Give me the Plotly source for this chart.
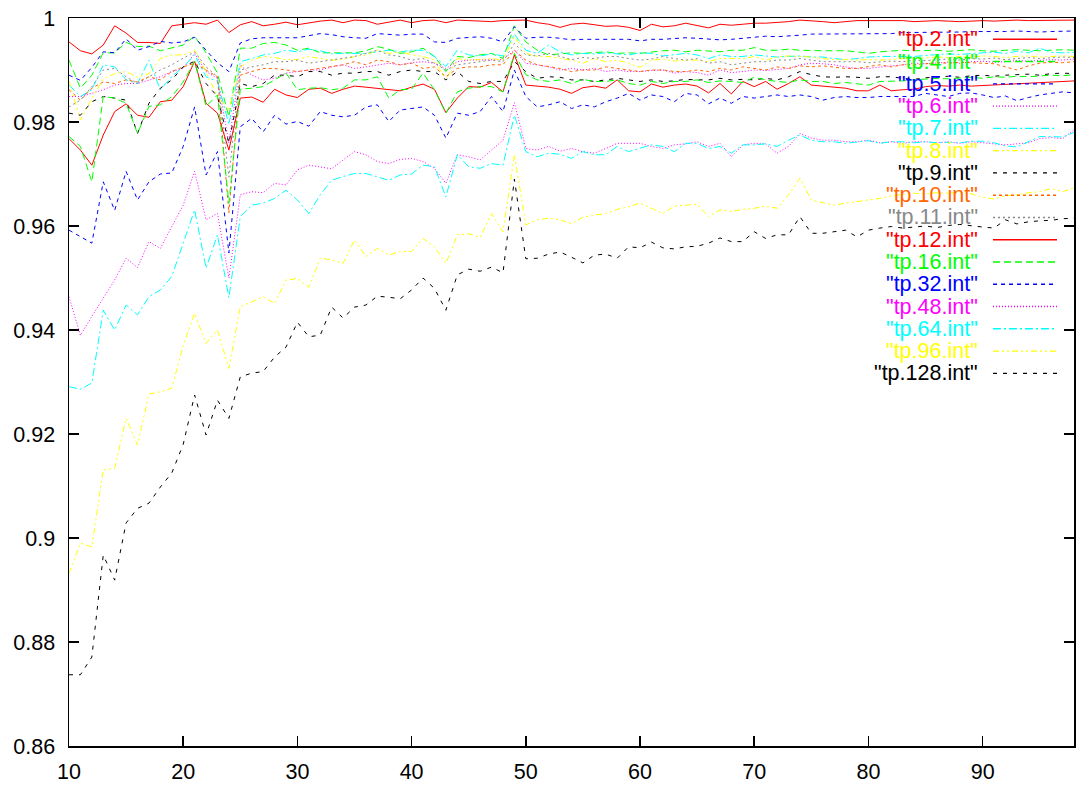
import plotly.graph_objects as go

x = list(range(10, 99))

tp2 = [.9954,.9937,.9931,.9948,.9985,.9971,.9953,.9953,.9951,.9985,
       .9988,.9991,.9988,.9996,.9972,.9987,.9993,.9985,.9988,.9992,
       .9987,.9991,.9994,.9996,.9991,.9996,.9995,.9988,.9992,.9996,
       .9991,.9995,.9996,.9991,.9996,.9995,.9994,.9993,.9995,.9996,
       .9996,.9991,.9988,.9982,.9988,.9990,.9987,.9984,.9985,.9982,
       .9976,.9988,.9983,.9985,.9990,.9985,.9981,.9988,.9986,.9988,
       .9990,.9990,.9991,.9993,.9996,.9995,.9993,.9991,.9993,.9995,
       .9995,.9995,.9995,.9995,.9993,.9994,.9995,.9994,.9993,.9994,
       .9995,.9994,.9995,.9996,.9995,.9995,.9996,.9996,.9996]

tp4 = [.9919,.9865,.9890,.9933,.9933,.9953,.9945,.9946,.9937,.9942,
       .9948,.9965,.9933,.9894,.9810,.9942,.9942,.9951,.9953,.9948,
       .9938,.9942,.9933,.9933,.9933,
       .9933,.9937,.9945,.9940,.9932,.9935,.9942,.9926,.9897,.9926,.9924,.9929,.9932,
       .9922,.9985,.9954,.9938,.9929,.9931,.9933,.9932,.9933,.9935,.9932,.9933,.9932,
       .9935,.9937,.9938,.9935,.9938,.9937,.9935,.9938,.9938,.9943,.9938,.9938,
       .9940,.9938,.9937,.9937,.9937,.9937,.9935,.9932,.9935,.9937,.9938,.9937,
       .9937,.9938,.9936,.9938,.9939,.9937,.9936,.9938,.9939,.9938,.9937,.9938,.9939,.9938]

tp5 = [.9890,.9880,.9905,.9935,.9933,.9960,.9938,.9945,.9955,.9952,
       .9954,.9963,.9938,.9914,.9897,.9952,.9960,.9962,.9962,.9962,
       .9962,.9966,.9970,.9968,.9964,.9962,.9961,.9970,.9969,.9967,
       .9969,.9969,.9954,.9953,.9961,.9963,.9964,.9961,.9954,.9983,
       .9961,.9963,.9963,.9961,.9958,.9959,.9959,.9959,.9959,.9959,
       .9956,.9959,.9959,.9961,.9962,.9961,.9959,.9958,.9959,.9961,
       .9964,.9965,.9964,.9965,.9967,.9969,.9969,.9969,.9969,.9969,
       .9969,.9970,.9970,.9972,.9972,.9972,.9972,.9973,.9973,.9974,
       .9974,.9973,.9974,.9975,.9974,.9973,.9974,.9975,.9975]

tp6 = [.9849,.9849,.9855,.9862,.9871,.9874,.9874,.9881,.9887,.9897,
       .9903,.9932,.9897,.9884,.9760,.9910,.9890,.9881,.9884,.9894,
       .9897,.9900,.9900,.9906,.9910,
       .9903,.9906,.9910,.9913,.9910,.9914,.9916,.9913,.9903,.9916,.9919,.9919,.9920,
       .9920,.9938,.9913,.9910,.9906,.9900,.9903,.9900,.9903,.9897,.9900,.9897,.9897,
       .9899,.9900,.9894,.9897,.9895,.9890,.9900,.9895,.9897,.9900,.9899,.9901,
       .9903,.9910,.9913,.9912,.9910,.9906,.9903,.9903,.9906,.9908,.9910,.9913,
       .9912,.9914,.9915,.9913,.9916,.9917,.9915,.9916,.9918,.9917,.9919,.9920,.9919,.9921]

tp7 = [.9871,.9849,.9862,.9910,.9906,.9881,.9874,.9919,.9862,.9887,
       .9906,.9929,.9887,.9878,.9795,.9916,.9922,.9929,.9932,.9938,
       .9935,.9940,.9937,.9931,.9932,
       .9932,.9932,.9935,.9938,.9935,.9938,.9938,.9926,.9907,.9938,.9929,.9927,.9931,
       .9927,.9969,.9938,.9932,.9948,.9935,.9929,.9932,.9931,.9933,.9931,.9929,.9933,
       .9932,.9927,.9929,.9932,.9929,.9922,.9929,.9926,.9926,.9929,.9927,.9925,
       .9926,.9927,.9925,.9925,.9922,.9920,.9922,.9925,.9926,.9926,.9927,.9926,
       .9928,.9930,.9931,.9930,.9932,.9933,.9934,.9932,.9936,.9933,.9942,.9934,.9933,.9934]

tp8 = [.9879,.9804,.9845,.9883,.9893,.9897,.9886,.9893,.9922,.9929,
       .9929,.9938,.9897,.9849,.9823,.9906,.9919,.9926,.9924,.9920,
       .9920,.9926,.9922,.9919,.9920,
       .9926,.9929,.9938,.9932,.9935,.9929,.9926,.9919,.9881,.9922,.9919,.9920,.9922,
       .9919,.9964,.9932,.9926,.9926,.9922,.9919,.9913,.9922,.9916,.9919,.9913,.9905,
       .9919,.9921,.9917,.9919,.9919,.9916,.9922,.9922,.9922,.9926,.9919,.9925,
       .9927,.9926,.9925,.9922,.9920,.9920,.9919,.9920,.9919,.9920,.9922,.9922,
       .9923,.9925,.9924,.9926,.9925,.9927,.9926,.9924,.9926,.9927,.9925,.9926,.9927,.9926]

tp9 = [.9817,.9813,.9839,.9849,.9846,.9842,.9778,.9836,.9865,.9881,
       .9906,.9917,.9874,.9849,.9759,.9874,.9868,.9874,.9890,.9890,
       .9887,.9897,.9897,.9890,.9894,
       .9894,.9897,.9897,.9890,.9897,.9900,.9897,.9897,.9881,.9897,.9878,.9874,.9878,
       .9878,.9916,.9897,.9884,.9887,.9886,.9881,.9881,.9878,.9881,.9884,.9881,.9878,
       .9881,.9878,.9879,.9882,.9881,.9881,.9884,.9881,.9882,.9881,.9884,.9881,
       .9887,.9897,.9891,.9887,.9886,.9887,.9886,.9884,.9887,.9887,.9884,.9882,
       .9885,.9887,.9888,.9886,.9889,.9890,.9888,.9890,.9891,.9892,.9890,.9893,.9894,.9893]

tp10 = [.9862,.9842,.9865,.9877,.9874,.9881,.9877,.9887,.9881,.9897,
        .9906,.9913,.9900,.9887,.9625,.9890,.9897,.9903,.9903,.9900,
        .9897,.9900,.9903,.9906,.9910,
        .9916,.9910,.9919,.9916,.9910,.9913,.9903,.9906,.9887,.9903,.9906,.9906,.9910,
        .9910,.9938,.9919,.9910,.9906,.9903,.9897,.9900,.9900,.9906,.9903,.9900,.9897,
        .9900,.9900,.9897,.9897,.9900,.9897,.9903,.9900,.9906,.9903,.9900,.9906,
        .9903,.9908,.9906,.9908,.9906,.9903,.9903,.9906,.9910,.9906,.9910,.9910,
        .9912,.9914,.9913,.9915,.9914,.9913,.9912,.9906,.9900,.9908,.9913,.9915,.9914,.9916]

tp11 = [.9829,.9842,.9868,.9900,.9903,.9887,.9874,.9887,.9900,.9910,
        .9922,.9935,.9906,.9887,.9694,.9900,.9906,.9910,.9916,.9916,
        .9919,.9913,.9916,.9919,.9922,
        .9926,.9932,.9938,.9929,.9926,.9919,.9922,.9913,.9900,.9910,.9913,.9916,.9919,
        .9916,.9951,.9929,.9927,.9932,.9926,.9920,.9924,.9922,.9926,.9926,.9922,.9919,
        .9921,.9926,.9922,.9919,.9922,.9913,.9916,.9910,.9913,.9916,.9916,.9919,
        .9919,.9922,.9919,.9916,.9916,.9916,.9916,.9914,.9916,.9917,.9916,.9919,
        .9918,.9920,.9921,.9919,.9922,.9921,.9923,.9920,.9922,.9924,.9922,.9923,.9925,.9924]

tp12 = [.9768,.9746,.9717,.9775,.9820,.9835,.9813,.9809,.9839,.9842,
        .9868,.9917,.9836,.9817,.9746,.9846,.9848,.9838,.9863,.9852,
        .9847,.9863,.9865,.9855,.9863,.9869,.9867,.9865,.9863,.9860,
        .9867,.9873,.9863,.9818,.9846,.9868,.9867,.9876,.9858,.9929,
        .9871,.9869,.9867,.9863,.9855,.9866,.9869,.9865,.9881,.9860,
        .9858,.9873,.9867,.9871,.9873,.9869,.9856,.9874,.9854,.9878,
        .9868,.9878,.9863,.9874,.9887,.9871,.9869,.9867,.9865,.9860,
        .9860,.9871,.9860,.9862,.9863,.9868,.9870,.9869,.9871,.9869,
        .9870,.9871,.9872,.9873,.9874,.9875,.9876,.9878,.9879]

tp16 = [.9772,.9753,.9685,.9849,.9846,.9836,.9778,.9830,.9833,.9849,
        .9877,.9917,.9830,.9852,.9644,.9863,.9865,.9868,.9881,.9894,
        .9862,.9865,.9866,.9862,.9865,
        .9881,.9881,.9887,.9846,.9862,.9863,.9894,.9862,.9817,.9858,.9865,.9868,.9868,
        .9858,.9932,.9891,.9881,.9878,.9881,.9874,.9882,.9878,.9878,.9881,.9874,.9871,
        .9878,.9874,.9878,.9878,.9881,.9876,.9879,.9878,.9876,.9886,.9881,.9878,
        .9876,.9881,.9878,.9878,.9874,.9876,.9873,.9871,.9878,.9878,.9879,.9881,
        .9882,.9884,.9883,.9885,.9886,.9884,.9887,.9886,.9888,.9887,.9889,.9890,.9889,.9891]

tp32 = [.9592,.9579,.9567,.9685,.9630,.9705,.9650,.9685,.9700,.9702,
        .9753,.9829,.9698,.9743,.9548,.9791,.9807,.9781,.9813,.9796,
        .9801,.9792,.9820,.9813,.9810,.9813,.9829,.9833,.9801,.9823,
        .9826,.9829,.9813,.9769,.9817,.9813,.9820,.9849,.9820,.9900,
        .9849,.9829,.9833,.9839,.9826,.9833,.9829,.9839,.9846,.9855,
        .9842,.9852,.9849,.9839,.9855,.9852,.9835,.9846,.9836,.9849,
        .9846,.9849,.9852,.9849,.9852,.9849,.9842,.9847,.9849,.9847,
        .9847,.9849,.9849,.9850,.9849,.9855,.9852,.9849,.9855,.9856,
        .9852,.9847,.9850,.9841,.9847,.9852,.9855,.9858,.9856]

tp48 = [.9464,.9390,.9426,.9461,.9496,.9538,.9520,.9570,.9557,.9599,
        .9640,.9705,.9612,.9624,.9500,.9660,.9666,.9664,.9682,.9679,
        .9708,.9717,.9714,.9710,.9727,.9743,.9737,.9724,.9720,.9728,
        .9730,.9724,.9711,.9682,.9737,.9733,.9727,.9746,.9765,.9837,
        .9749,.9746,.9753,.9744,.9749,.9743,.9740,.9749,.9759,.9759,
        .9759,
        .9753,.9749,.9756,.9758,.9762,.9753,.9759,.9733,.9756,.9759,.9758,.9740,
        .9753,.9778,.9769,.9765,.9765,.9762,.9762,.9765,.9760,.9762,.9759,.9762,
        .9762,.9760,.9762,.9759,.9762,.9760,.9757,.9756,.9758,.9760,.9768,.9770,.9768,.9785]

tp64 = [.9291,.9286,.9298,.9438,.9400,.9448,.9429,.9464,.9477,.9503,
        .9567,.9631,.9519,.9583,.9462,.9618,.9640,.9644,.9653,.9669,
        .9650,.9624,.9660,.9688,.9695,.9701,.9701,.9695,.9688,.9698,
        .9700,.9717,.9714,.9656,.9737,.9714,.9711,.9720,.9717,.9813,
        .9743,.9733,.9740,.9738,.9730,.9743,.9737,.9737,.9753,.9743,
        .9750,
        .9756,.9753,.9743,.9759,.9759,.9749,.9753,.9740,.9756,.9756,.9758,.9753,
        .9765,.9775,.9765,.9762,.9762,.9759,.9762,.9764,.9759,.9762,.9762,.9760,
        .9762,.9760,.9761,.9760,.9763,.9763,.9760,.9754,.9752,.9762,.9772,.9772,.9771,.9780]

tp96 = [.8932,.8990,.8983,.9131,.9134,.9230,.9179,.9277,.9281,.9288,
        .9370,.9432,.9374,.9400,.9326,.9445,.9454,.9464,.9451,.9496,
        .9499,.9482,.9538,.9535,.9528,.9573,.9541,.9557,.9544,.9551,
        .9551,.9576,.9560,.9528,.9583,.9585,.9578,.9624,.9589,.9737,
        .9602,.9612,.9615,.9612,.9604,.9617,.9621,.9624,.9632,.9637,
        .9644,.9634,.9624,.9638,.9640,.9642,.9618,.9631,.9628,.9632,
        .9634,.9638,.9634,.9660,.9692,.9650,.9645,.9640,.9644,.9647,
        .9650,.9653,.9658,.9660,.9663,
        .9662,.9664,.9663,.9665,.9662,.9655,.9652,.9658,.9660,.9664,.9666,.9672,.9666,.9673]

tp128 = [.8737,.8737,.8771,.8967,.8919,.9029,.9057,.9067,.9098,.9125,
         .9180,.9275,.9198,.9265,.9230,.9310,.9317,.9320,.9348,.9367,
         .9415,.9387,.9390,.9444,.9423,.9444,.9448,.9465,.9463,.9460,
         .9477,.9500,.9480,.9438,.9506,.9517,.9513,.9521,.9510,.9690,
         .9537,.9538,.9546,.9550,.9540,.9529,.9544,.9546,.9538,.9560,
         .9558,.9569,.9558,.9556,.9560,.9561,.9567,.9577,.9570,.9570,
         .9589,.9576,.9583,.9583,.9618,.9586,.9586,.9589,.9592,.9579,
         .9592,.9596,.9599,.9596,.9598,.9600,.9597,.9601,.9603,.9600,
         .9598,.9596,.9612,.9604,.9608,.9610,.9611,.9614,.9615]

names = ['"tp.2.int"', '"tp.4.int"', '"tp.5.int"', '"tp.6.int"', '"tp.7.int"',
         '"tp.8.int"', '"tp.9.int"', '"tp.10.int"', '"tp.11.int"', '"tp.12.int"',
         '"tp.16.int"', '"tp.32.int"', '"tp.48.int"', '"tp.64.int"', '"tp.96.int"',
         '"tp.128.int"']
series = [tp2, tp4, tp5, tp6, tp7, tp8, tp9, tp10, tp11, tp12, tp16, tp32, tp48, tp64, tp96, tp128]

# gnuplot line types 1..9 then repeat
lt_colors = ['#ff0000', '#00ff00', '#0000ff', '#ff00ff', '#00ffff', '#ffff00',
             '#000000', '#ff6600', '#888888']
lt_dash = ['solid', '7px,4px', '4px,4px', '1px,2px', '8px,3px,2px,3px',
           '6px,3px,2px,3px,2px,3px', '4px,6px', '3px,3px', '2px,3px']

xticks = [10, 20, 30, 40, 50, 60, 70, 80, 90]
yticks = [0.86, 0.88, 0.90, 0.92, 0.94, 0.96, 0.98, 1.0]
ytick_text = ['0.86', '0.88', '0.9', '0.92', '0.94', '0.96', '0.98', '1']

W, H = 1078, 785
ML, MR, MT, MB = 69, 4, 18, 39
PW, PH = W - ML - MR, H - MT - MB

fig = go.Figure()
for i, (nm, ys) in enumerate(zip(names, series)):
    lt = i % 9
    fig.add_trace(go.Scatter(x=x, y=ys, mode='lines', name=nm, showlegend=False,
                             hoverinfo='skip',
                             line=dict(color=lt_colors[lt], width=1, dash=lt_dash[lt])))

def px_x(p):
    return (p - ML) / PW

def px_y(q):
    return 1 - (q - MT) / PH

annotations = []
shapes = []
font_family = 'Liberation Sans, Arial, Helvetica, sans-serif'
for i, nm in enumerate(names):
    lt = i % 9
    row_px = 39.3 + 22.27 * i
    yc = px_y(row_px)
    annotations.append(dict(xref='paper', yref='paper', x=px_x(979), y=yc,
                            xanchor='right', yanchor='middle', text=nm, showarrow=False,
                            borderpad=0,
                            font=dict(family=font_family, size=21.5, color=lt_colors[lt])))
    shapes.append(dict(type='line', xref='paper', yref='paper', layer='above',
                       x0=px_x(993), x1=px_x(1057), y0=yc, y1=yc,
                       line=dict(color=lt_colors[lt], width=1.4, dash=lt_dash[lt])))

axis_common = dict(showgrid=False, zeroline=False, showline=True, linecolor='black',
                   linewidth=1.5, mirror='ticks', ticks='inside', ticklen=10,
                   tickwidth=1.5, tickcolor='black', automargin=False,
                   tickfont=dict(family=font_family, size=21.5, color='black'))

fig.update_layout(
    width=W, height=H, autosize=False,
    margin=dict(l=ML, r=MR, t=MT, b=MB, pad=0),
    paper_bgcolor='white', plot_bgcolor='white', hovermode=False,
    xaxis=dict(range=[10, 98], tickvals=xticks, ticktext=[str(v) for v in xticks],
               ticklabelstandoff=6, **axis_common),
    yaxis=dict(range=[0.86, 1.0], tickvals=yticks, ticktext=ytick_text,
               ticklabelstandoff=8, **axis_common),
    annotations=annotations, shapes=shapes,
)

fig.write_html('out.html', config={'staticPlot': True, 'displayModeBar': False},
               post_script="document.body.style.margin='0px';document.body.style.overflow='hidden';")
